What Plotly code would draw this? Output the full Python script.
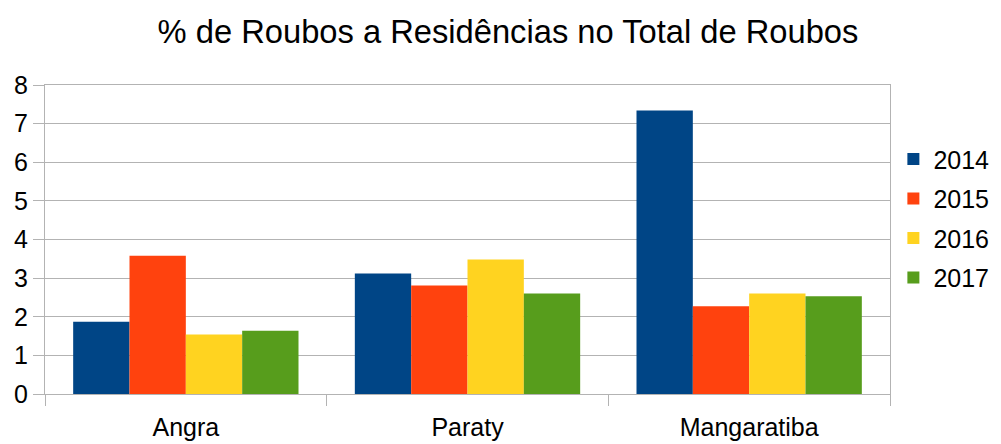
import plotly.graph_objects as go

categories = ["Angra", "Paraty", "Mangaratiba"]
years = ["2014", "2015", "2016", "2017"]
v2014 = [1.87, 3.12, 7.34]
v2015 = [3.58, 2.81, 2.27]
v2016 = [1.54, 3.48, 2.60]
v2017 = [1.64, 2.60, 2.53]
colors = ["#004586", "#ff420e", "#ffd320", "#579d1c"]
y_ticks = [0, 1, 2, 3, 4, 5, 6, 7, 8]

fig = go.Figure()
for name, vals, c in zip(years, [v2014, v2015, v2016, v2017], colors):
    fig.add_trace(go.Bar(x=categories, y=vals, name=name, marker_color=c,
                         marker_line_width=0, legendgroup=name))

font = "Liberation Sans, Arial, sans-serif"
fig.update_layout(
    width=1001, height=444,
    margin=dict(l=37, r=119, t=77, b=58, autoexpand=False),
    paper_bgcolor="white", plot_bgcolor="white",
    barmode="group", bargap=0.2, bargroupgap=0,
    title=dict(text="% de Roubos a Residências no Total de Roubos",
               x=0.4995, xanchor="center", y=0.946, yanchor="middle",
               font=dict(family=font, size=32.7, color="black")),
    font=dict(family=font, size=25, color="black"),
    legend=dict(x=1.004, xanchor="left", y=0.569, yanchor="middle",
                font=dict(size=25), itemwidth=30, tracegroupgap=4,
                bgcolor="rgba(0,0,0,0)"),
    xaxis=dict(showline=True, linecolor="#b3b3b3", linewidth=1, mirror=True,
               ticks="outside", tickson="boundaries", ticklen=11,
               tickcolor="#b3b3b3", showgrid=False, automargin=False,
               ticklabelstandoff=11, tickfont=dict(size=25)),
    yaxis=dict(range=[0, 8], tickvals=y_ticks, showline=True,
               linecolor="#b3b3b3", linewidth=1, mirror=True,
               ticks="outside", ticklen=11, tickcolor="#b3b3b3",
               showgrid=True, gridcolor="#b3b3b3", gridwidth=1,
               zeroline=False, automargin=False, tickfont=dict(size=25)),
)
fig.write_html("out.html")
